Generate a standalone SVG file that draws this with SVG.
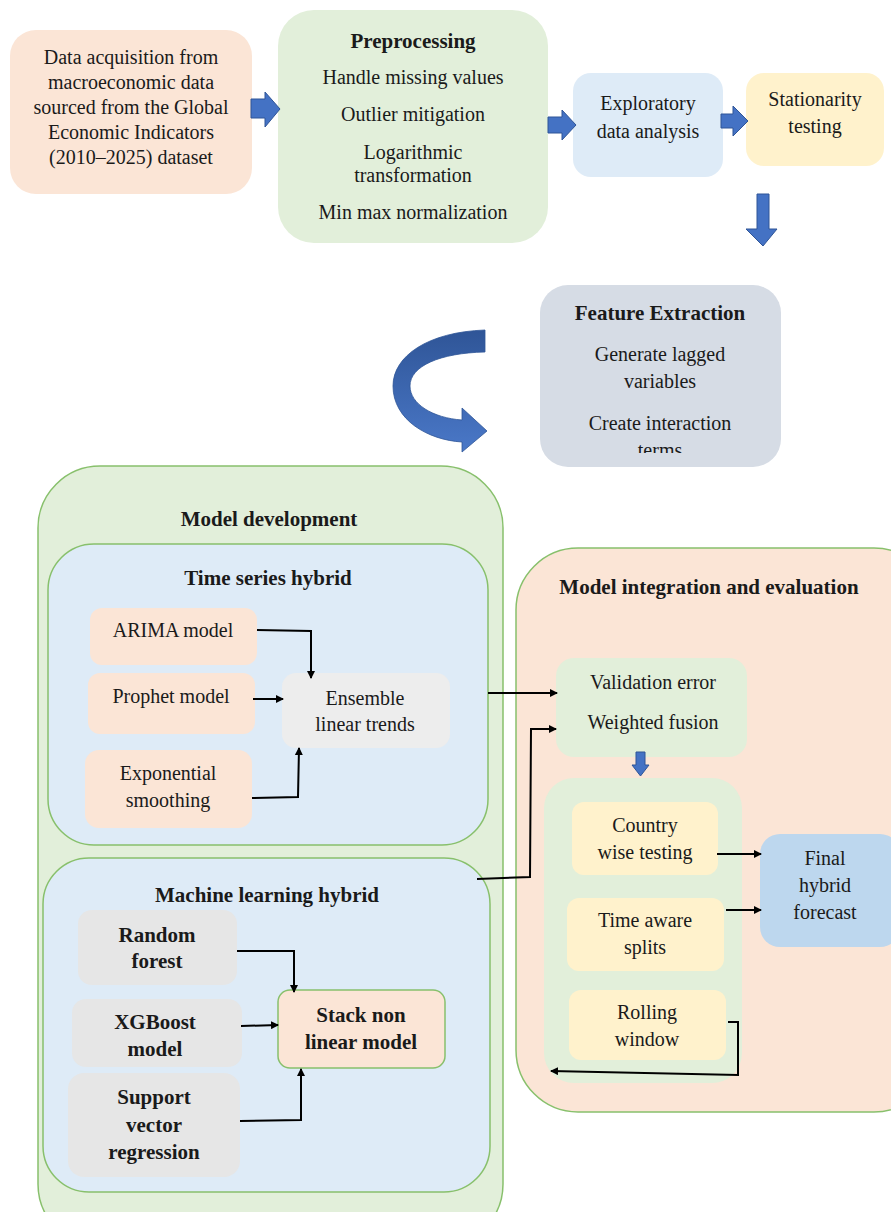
<svg xmlns="http://www.w3.org/2000/svg" width="891" height="1212" viewBox="0 0 891 1212">
<style>
text{font-family:"Liberation Serif","Times New Roman",serif;font-size:20px;fill:#1a1a1a;text-anchor:middle}
.b{font-weight:bold;font-size:21px}
.peach{fill:#fbe5d6}
.grn{fill:#e2efda}
.blu{fill:#deebf7}
.yel{fill:#fff2cc}
.gry{fill:#ededed}
.gry2{fill:#e6e6e6}
.edge{stroke:#88c06c;stroke-width:1.5}
.blk{fill:#4472c4;stroke:#2f5597;stroke-width:1}
.con{fill:none;stroke:#000;stroke-width:2}
</style>
<defs>
<marker id="ah" markerWidth="8" markerHeight="8" refX="7" refY="4" orient="auto" markerUnits="userSpaceOnUse">
<path d="M0,0 L8,4 L0,8 Z" fill="#000"/>
</marker>
<linearGradient id="cg" x1="0" y1="0" x2="0" y2="1">
<stop offset="0" stop-color="#2f5597"/>
<stop offset="1" stop-color="#4a78c8"/>
</linearGradient>
<clipPath id="fec"><rect x="540" y="285" width="241" height="168"/></clipPath>
</defs>
<rect width="891" height="1212" fill="#fff"/>

<g id="data">
<rect x="10" y="30" width="242" height="164" rx="26" class="peach"/>
<text x="131" y="64">Data acquisition from</text>
<text x="131" y="89">macroeconomic data</text>
<text x="131" y="114">sourced from the Global</text>
<text x="131" y="139">Economic Indicators</text>
<text x="131" y="164">(2010–2025) dataset</text>
</g>

<g id="preprocessing">
<rect x="278" y="10" width="270" height="233" rx="36" class="grn"/>
<text x="413" y="48" class="b">Preprocessing</text>
<text x="413" y="84">Handle missing  values</text>
<text x="413" y="121">Outlier mitigation</text>
<text x="413" y="159">Logarithmic</text>
<text x="413" y="182">transformation</text>
<text x="413" y="219">Min max normalization</text>
</g>

<g id="eda">
<rect x="573" y="73" width="150" height="104" rx="18" class="blu"/>
<text x="648" y="110">Exploratory</text>
<text x="648" y="138">data analysis</text>
</g>

<g id="stationarity">
<rect x="746" y="73" width="138" height="93" rx="18" class="yel"/>
<text x="815" y="106">Stationarity</text>
<text x="815" y="133">testing</text>
</g>

<g id="feature">
<rect x="540" y="285" width="241" height="182" rx="28" fill="#d6dce5"/>
<text x="660" y="320" class="b">Feature Extraction</text>
<text x="660" y="361">Generate lagged</text>
<text x="660" y="388">variables</text>
<g clip-path="url(#fec)">
<text x="660" y="430">Create interaction</text>
<text x="660" y="457">terms</text>
</g>
</g>

<g id="model-development">
<rect x="38" y="466" width="465" height="780" rx="62" class="grn edge"/>
<text x="269" y="526" class="b">Model development</text>
</g>

<g id="time-series-hybrid">
<rect x="48" y="544" width="440" height="301" rx="46" class="blu edge"/>
<text x="268" y="585" class="b">Time series hybrid</text>
</g>
<g id="arima">
<rect x="90" y="608" width="167" height="57" rx="12" class="peach"/>
<text x="173" y="637">ARIMA model</text>
</g>
<g id="prophet">
<rect x="88" y="673" width="167" height="61" rx="12" class="peach"/>
<text x="171" y="703">Prophet model</text>
</g>
<g id="exponential">
<rect x="85" y="750" width="167" height="78" rx="14" class="peach"/>
<text x="168" y="780">Exponential</text>
<text x="168" y="807">smoothing</text>
</g>
<g id="ensemble">
<rect x="282" y="673" width="168" height="75" rx="14" class="gry"/>
<text x="365" y="705">Ensemble</text>
<text x="365" y="731">linear trends</text>
</g>

<g id="ml-hybrid">
<rect x="43" y="858" width="447" height="334" rx="46" class="blu edge"/>
<text x="267" y="902" class="b">Machine learning hybrid</text>
</g>
<g id="random-forest">
<rect x="78" y="910" width="159" height="75" rx="14" class="gry2"/>
<text x="157" y="942" class="b">Random</text>
<text x="157" y="968" class="b">forest</text>
</g>
<g id="xgboost">
<rect x="72" y="999" width="170" height="68" rx="14" class="gry2"/>
<text x="155" y="1029" class="b">XGBoost</text>
<text x="155" y="1056" class="b">model</text>
</g>
<g id="svr">
<rect x="68" y="1073" width="172" height="104" rx="16" class="gry2"/>
<text x="154" y="1104" class="b">Support</text>
<text x="154" y="1132" class="b">vector</text>
<text x="154" y="1159" class="b">regression</text>
</g>
<g id="stack">
<rect x="278" y="990" width="167" height="78" rx="12" class="peach edge"/>
<text x="361" y="1022" class="b">Stack non</text>
<text x="361" y="1049" class="b">linear model</text>
</g>

<g id="model-integration">
<rect x="516" y="548" width="420" height="564" rx="62" class="peach edge"/>
<text x="709" y="594" class="b">Model integration and evaluation</text>
</g>
<g id="validation">
<rect x="556" y="658" width="191" height="99" rx="18" class="grn"/>
<text x="653" y="689">Validation error</text>
<text x="653" y="729">Weighted fusion</text>
</g>
<g id="evaluation-group">
<rect x="544" y="778" width="198" height="305" rx="30" class="grn"/>
</g>
<g id="country">
<rect x="572" y="802" width="146" height="73" rx="12" class="yel"/>
<text x="645" y="832">Country</text>
<text x="645" y="859">wise testing</text>
</g>
<g id="time-aware">
<rect x="567" y="898" width="157" height="73" rx="12" class="yel"/>
<text x="645" y="927">Time aware</text>
<text x="645" y="954">splits</text>
</g>
<g id="rolling">
<rect x="569" y="990" width="157" height="70" rx="12" class="yel"/>
<text x="647" y="1019">Rolling</text>
<text x="647" y="1046">window</text>
</g>
<g id="final">
<rect x="760" y="834" width="140" height="113" rx="20" fill="#bdd7ee"/>
<text x="825" y="865">Final</text>
<text x="825" y="892">hybrid</text>
<text x="825" y="919">forecast</text>
</g>

<g id="connectors">
<path class="blk" d="M251,99 L265,99 L265,92 L280,109 L265,127 L265,118 L251,118 Z"/>
<path class="blk" d="M548,117 L562,117 L562,110 L576,125 L562,140 L562,133 L548,133 Z"/>
<path class="blk" d="M721,114 L733,114 L733,106 L748,121 L733,136 L733,128 L721,128 Z"/>
<path class="blk" d="M757,194 L769,194 L769,229 L777,229 L763,246 L746,229 L757,229 Z"/>
<path class="blk" d="M636,752 L645,752 L645,765 L649,765 L640.5,776 L632,765 L636,765 Z"/>
<path fill="url(#cg)" stroke="#2f5597" stroke-width="0.8" d="M485,330 C428,332 393,356 393,386 C393,420 428,440 462,442 L462,452 L487,431 L462,408 L462,420 C433,418 410,404 410,386 C410,366 440,353 485,352 Z"/>

<path class="con" d="M257,630 L311,631 L311,678" marker-end="url(#ah)"/>
<path class="con" d="M253,699 L283,699" marker-end="url(#ah)"/>
<path class="con" d="M252,798 L298,797 L299,748" marker-end="url(#ah)"/>
<path class="con" d="M237,951 L294,951 L294,992" marker-end="url(#ah)"/>
<path class="con" d="M241,1026 L278,1025" marker-end="url(#ah)"/>
<path class="con" d="M240,1121 L301,1120 L301,1069" marker-end="url(#ah)"/>
<path class="con" d="M488,693 L557,693" marker-end="url(#ah)"/>
<path class="con" d="M477,879 L530,877 L531,729 L556,729" marker-end="url(#ah)"/>
<path class="con" d="M717,854 L761,854" marker-end="url(#ah)"/>
<path class="con" d="M726,910 L761,910" marker-end="url(#ah)"/>
<path class="con" d="M728,1022 L738,1022 L738,1075 L551,1071" marker-end="url(#ah)"/>
</g>
</svg>
